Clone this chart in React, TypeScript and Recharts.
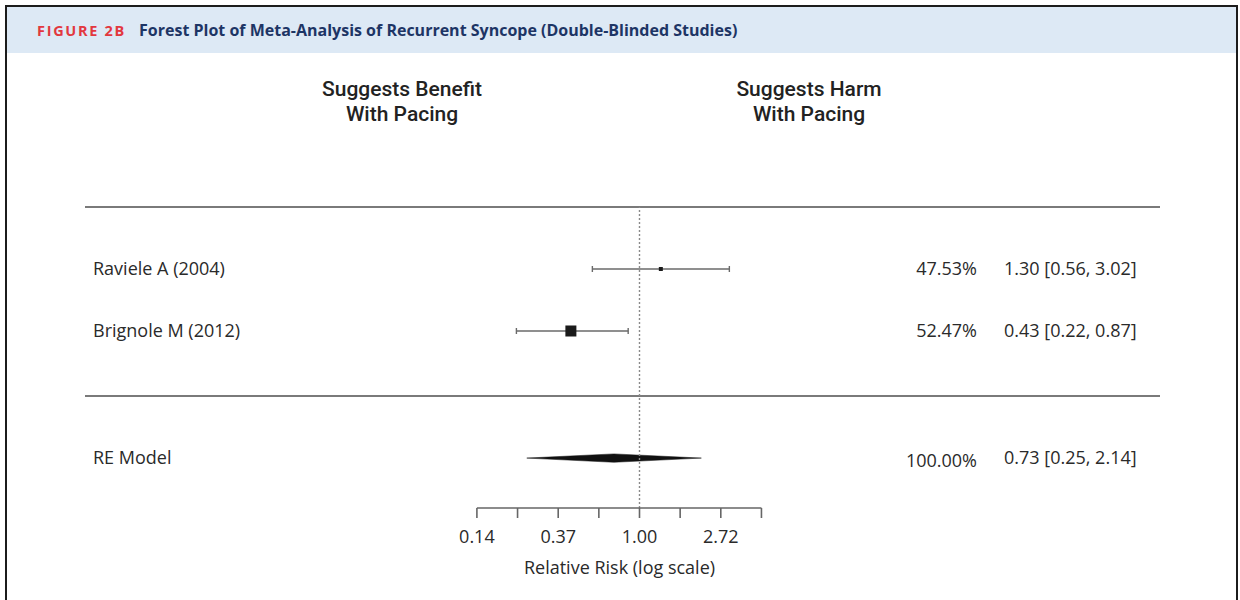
import React from "react";
import {
  Area,
  ComposedChart,
  ReferenceLine,
  Scatter,
  XAxis,
  YAxis,
} from "recharts";

// study level data (relative risk, 95% CI, RE weight)
const studies = ["Raviele A (2004)", "Brignole M (2012)"];
const estimates = [1.3, 0.43];
const lower = [0.56, 0.22];
const upper = [3.02, 0.87];
const weights = [47.53, 52.47];

// random effects summary
const summaryLabel = "RE Model";
const summaryEst = 0.73;
const summaryLower = 0.25;
const summaryUpper = 2.14;
const summaryWeight = 100.0;

// axis ticks on log scale (natural log steps)
const tickLogs = [-2, -1.5, -1, -0.5, 0, 0.5, 1, 1.5];

// row layout (y units, one row = 62px)
const TOP_ROW = 3;
const studyRows = [2, 1];
const SEP_ROW = -0.05;
const SUMMARY_ROW = -1.05;
const BOTTOM_ROW = -1.855;
const PX_PER_ROW = 62;

const CHART_W = 1240;
const CHART_H = 600;
const PLOT_LEFT = 85;
const PLOT_RIGHT = 1160;
const PLOT_TOP = 207;
const AXIS_H = 60;
const PLOT_BOTTOM = 508;

const FONT = "'Open Sans', 'Noto Sans', sans-serif";
const TEXT = "#2a2a2a";
const FS = 18;

const fmt2 = (v: number) => v.toFixed(2);
const ciText = (e: number, l: number, u: number) =>
  `${fmt2(e)} [${fmt2(l)}, ${fmt2(u)}]`;

const minW = Math.min(...weights);
const maxW = Math.max(...weights);
const markerSize = (w: number) =>
  maxW === minW ? 8 : 4 + ((w - minW) / (maxW - minW)) * 7;

const studyData = studies.map((name, i) => ({
  name,
  x: estimates[i],
  y: studyRows[i],
  lo: lower[i],
  hi: upper[i],
  w: weights[i],
  summary: false,
}));

const summaryPoint = [
  {
    name: summaryLabel,
    x: summaryEst,
    y: SUMMARY_ROW,
    lo: summaryLower,
    hi: summaryUpper,
    w: summaryWeight,
    summary: true,
  },
];

// diamond built as a range area: [bottom, top] at lower, estimate, upper
const diamondHalf = 4.2 / PX_PER_ROW;
const diamondData = [
  { x: summaryLower, band: [SUMMARY_ROW, SUMMARY_ROW] },
  { x: summaryEst, band: [SUMMARY_ROW - diamondHalf, SUMMARY_ROW + diamondHalf] },
  { x: summaryUpper, band: [SUMMARY_ROW, SUMMARY_ROW] },
];

// x domain so that 0.14 sits at x=477 and 2.72 at x=721
const PX_PER_LOG = 81.3;
const ONE_X = 639.5;
const xDomain = [
  Math.exp((PLOT_LEFT - ONE_X) / PX_PER_LOG),
  Math.exp((PLOT_RIGHT - ONE_X) / PX_PER_LOG),
];

const capHalf = 3 / PX_PER_ROW;

const rowText = (cy: number, p: any) => (
  <g fontFamily={FONT} fontSize={FS} fill={TEXT}>
    <text x={93} y={cy} dy="0.35em" textAnchor="start">
      {p.name}
    </text>
    <text x={977} y={cy} dy={p.summary ? "0.5em" : "0.35em"} textAnchor="end">
      {p.w.toFixed(2)}%
    </text>
    <text x={1004} y={cy} dy="0.35em" textAnchor="start">
      {ciText(p.x, p.lo, p.hi)}
    </text>
  </g>
);

const StudyShape = (props: any) => {
  const { cx, cy, payload } = props;
  const s = markerSize(payload.w);
  return (
    <g>
      <rect x={cx - s / 2} y={cy - s / 2} width={s} height={s} fill="#1a1a1a" />
      {rowText(cy, payload)}
    </g>
  );
};

const SummaryShape = (props: any) => {
  const { cy, payload } = props;
  return <g>{rowText(cy, payload)}</g>;
};

const XTick = (props: any) => {
  const { x, y, payload } = props;
  const lv = Math.log(payload.value);
  const isMajor = Math.abs(lv - Math.round(lv)) < 1e-6;
  if (!isMajor) return <g />;
  return (
    <text
      x={x}
      y={y}
      dy={23}
      textAnchor="middle"
      fontFamily={FONT}
      fontSize={FS}
      fill={TEXT}
    >
      {fmt2(payload.value)}
    </text>
  );
};

const headStyle: React.CSSProperties = {
  position: "absolute",
  width: 260,
  textAlign: "center",
  fontFamily: "Roboto, 'Noto Sans', sans-serif",
  fontWeight: 500,
  fontSize: 21,
  lineHeight: "25px",
  color: "#222",
};

export default function App() {
  return (
    <div
      style={{
        position: "absolute",
        left: 0,
        top: 0,
        width: CHART_W,
        height: CHART_H,
        background: "#fff",
        overflow: "hidden",
      }}
    >
      {/* figure frame */}
      <div
        style={{
          position: "absolute",
          left: 5,
          top: 5,
          width: 1229,
          height: 620,
          border: "2px solid #1c1c1c",
        }}
      />
      <div
        style={{
          position: "absolute",
          left: 7,
          top: 7,
          width: 1229,
          height: 46,
          background: "#dde9f5",
          display: "flex",
          alignItems: "center",
          fontFamily: "'Open Sans', 'Noto Sans', sans-serif",
          fontWeight: 700,
        }}
      >
        <span
          style={{
            marginLeft: 30,
            color: "#e2383f",
            fontSize: 14.5,
            letterSpacing: 1.7,
          }}
        >
          FIGURE 2B
        </span>
        <span style={{ marginLeft: 13, color: "#1d3565", fontSize: 16 }}>
          Forest Plot of Meta-Analysis of Recurrent Syncope (Double-Blinded Studies)
        </span>
      </div>

      <div style={{ ...headStyle, left: 402 - 130, top: 77 }}>
        Suggests Benefit
        <br />
        With Pacing
      </div>
      <div style={{ ...headStyle, left: 809 - 130, top: 77 }}>
        Suggests Harm
        <br />
        With Pacing
      </div>

      <div style={{ position: "absolute", left: 0, top: 0 }}>
        <ComposedChart
          width={CHART_W}
          height={CHART_H}
          margin={{
            left: PLOT_LEFT,
            right: CHART_W - PLOT_RIGHT,
            top: PLOT_TOP,
            bottom: CHART_H - PLOT_BOTTOM - AXIS_H,
          }}
        >
          <XAxis
            type="number"
            dataKey="x"
            scale="log"
            domain={xDomain}
            allowDataOverflow
            ticks={tickLogs.map((l) => Math.exp(l))}
            interval={0}
            axisLine={false}
            tickLine={{ stroke: "#666", strokeWidth: 1.6 }}
            tickSize={10}
            tick={<XTick />}
            height={AXIS_H}
            label={{
              value: "Relative Risk (log scale)",
              position: "insideBottom",
              offset: -6,
              dx: -3,
              fontFamily: FONT,
              fontSize: FS,
              fill: TEXT,
            }}
          />
          <YAxis
            type="number"
            dataKey="y"
            domain={[BOTTOM_ROW, TOP_ROW]}
            allowDataOverflow
            hide
          />

          <ReferenceLine y={TOP_ROW} stroke="#7a7a7a" strokeWidth={2} ifOverflow="visible" />
          <ReferenceLine y={SEP_ROW} stroke="#7a7a7a" strokeWidth={2} ifOverflow="visible" />
          <ReferenceLine
            x={1}
            stroke="#8a8a8a"
            strokeWidth={1.4}
            strokeDasharray="2 2"
            ifOverflow="visible"
          />
          {/* axis line across the tick range */}
          <ReferenceLine
            segment={[
              { x: Math.exp(tickLogs[0]), y: BOTTOM_ROW },
              { x: Math.exp(tickLogs[tickLogs.length - 1]), y: BOTTOM_ROW },
            ]}
            stroke="#666"
            strokeWidth={1.6}
            ifOverflow="visible"
          />

          {studyData.map((d) => (
            <ReferenceLine
              key={`ci-${d.name}`}
              segment={[
                { x: d.lo, y: d.y },
                { x: d.hi, y: d.y },
              ]}
              stroke="#6a6a6a"
              strokeWidth={1.6}
              ifOverflow="visible"
            />
          ))}
          {studyData.flatMap((d) =>
            [d.lo, d.hi].map((v, j) => (
              <ReferenceLine
                key={`cap-${d.name}-${j}`}
                segment={[
                  { x: v, y: d.y - capHalf },
                  { x: v, y: d.y + capHalf },
                ]}
                stroke="#6a6a6a"
                strokeWidth={1.4}
                ifOverflow="visible"
              />
            ))
          )}

          <Area
            data={diamondData}
            dataKey="band"
            type="linear"
            stroke="#111"
            strokeWidth={0.5}
            fill="#111"
            fillOpacity={1}
            dot={false}
            activeDot={false}
            isAnimationActive={false}
          />

          <Scatter
            data={studyData}
            shape={<StudyShape />}
            isAnimationActive={false}
          />
          <Scatter
            data={summaryPoint}
            shape={<SummaryShape />}
            isAnimationActive={false}
          />
        </ComposedChart>
      </div>
    </div>
  );
}
